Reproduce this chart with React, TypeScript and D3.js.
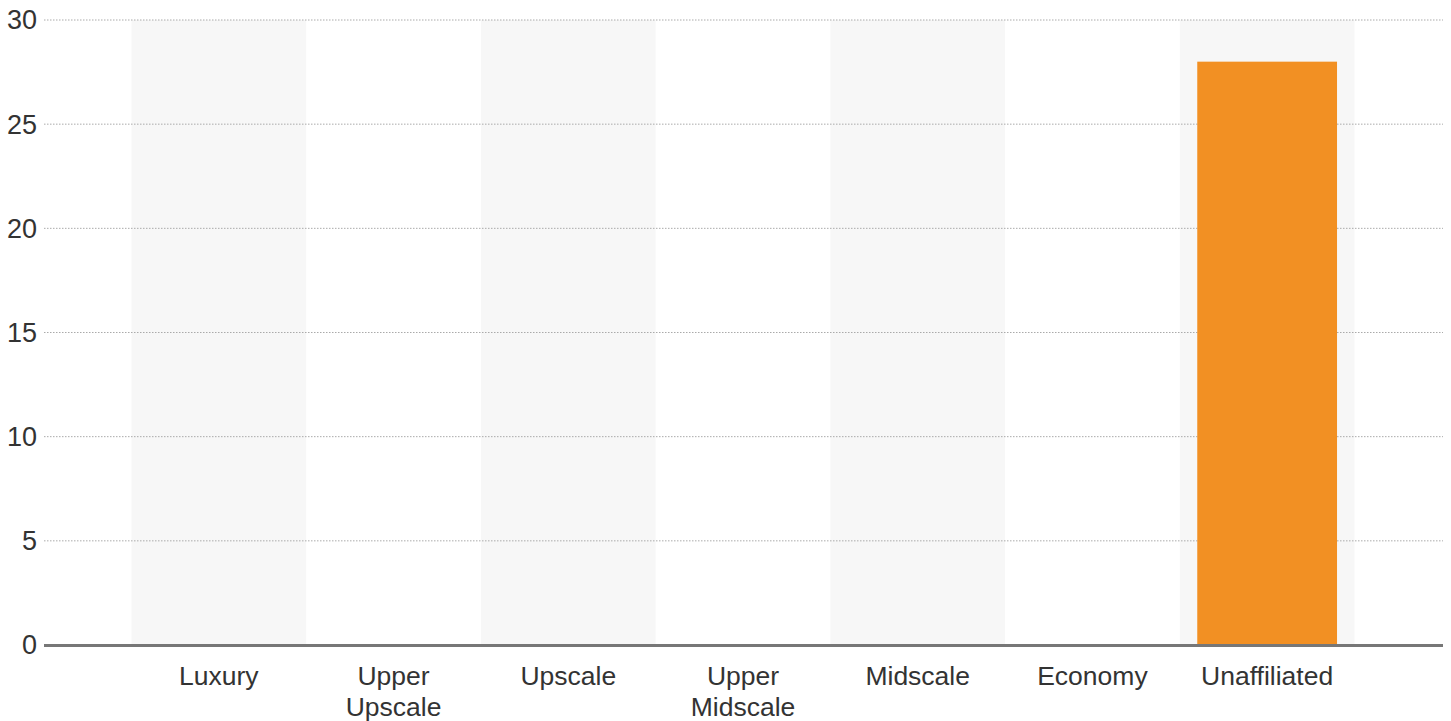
import React from "react";
import * as d3 from "d3";

const categories: string[][] = [
  ["Luxury"],
  ["Upper", "Upscale"],
  ["Upscale"],
  ["Upper", "Midscale"],
  ["Midscale"],
  ["Economy"],
  ["Unaffiliated"],
];
const values: number[] = [0, 0, 0, 0, 0, 0, 28];
const yTicks: number[] = [0, 5, 10, 15, 20, 25, 30];

export default function App() {
  const W = 1451;
  const H = 721;
  const keys = categories.map((c) => c.join(" "));
  const x = d3.scaleBand<string>().domain(keys).range([131.5, 1354.5]).paddingInner(0).paddingOuter(0);
  const y = d3.scaleLinear().domain([0, 30]).range([645, 20]);
  const barW = x.bandwidth() * 0.8;
  const font = "'Liberation Sans', Arial, sans-serif";

  return (
    <svg width={W} height={H} style={{ position: "absolute", left: 0, top: 0 }}>
      {keys.map((k, i) =>
        i % 2 === 0 ? (
          <rect key={"band" + k} x={x(k)} y={y(30)} width={x.bandwidth()} height={y(0) - y(30)} fill="#f7f7f7" />
        ) : null
      )}
      {yTicks.filter((t) => t !== 0).map((t) => (
        <line key={"g" + t} x1={44} x2={1443} y1={y(t)} y2={y(t)} stroke="#aaaaaa" strokeWidth={1} strokeDasharray="1.5,1.5" />
      ))}
      {keys.map((k, i) =>
        values[i] > 0 ? (
          <rect
            key={"bar" + k}
            x={(x(k) as number) + (x.bandwidth() - barW) / 2}
            y={y(values[i])}
            width={barW}
            height={y(0) - y(values[i])}
            fill="#f29023"
          />
        ) : null
      )}
      <line x1={44} x2={1443} y1={y(0) + 0.5} y2={y(0) + 0.5} stroke="#777777" strokeWidth={3} />
      {yTicks.map((t) => (
        <text key={"t" + t} x={37} y={y(t)} dy="0.35em" textAnchor="end" fontFamily={font} fontSize={27} fill="#333333">
          {t}
        </text>
      ))}
      {categories.map((c, i) => (
        <text key={"c" + i} x={(x(keys[i]) as number) + x.bandwidth() / 2} y={685} textAnchor="middle" fontFamily={font} fontSize={26.5} fill="#333333">
          {c.map((line, j) => (
            <tspan key={j} x={(x(keys[i]) as number) + x.bandwidth() / 2} dy={j === 0 ? 0 : 31}>
              {line}
            </tspan>
          ))}
        </text>
      ))}
    </svg>
  );
}
